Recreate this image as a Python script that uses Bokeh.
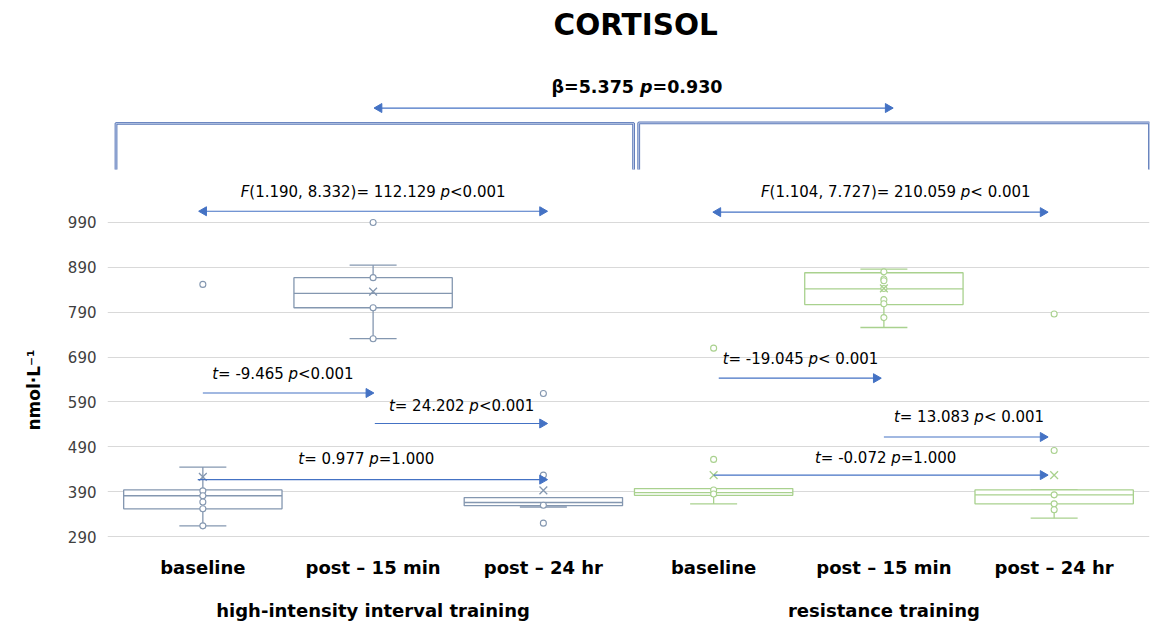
from math import pi
from bokeh.plotting import figure
from bokeh.models import FactorRange, Range1d, ColumnDataSource, FixedTicker, Title
from bokeh.core.properties import value, field
from bokeh.embed import file_html
from bokeh.resources import INLINE

# ---------------- data ----------------
groups = ["high-intensity interval training", "resistance training"]
times = ["baseline", "post – 15 min", "post – 24 hr"]
group_colors = ["#8497B0", "#A9D18E"]

lower = [314, 731, 356, 363, 756, 331]
q1 = [352, 800, 359, 382, 807, 363]
median = [381, 832, 366, 388, 842, 383]
q3 = [394, 867, 377, 397, 878, 394]
upper = [445, 895, 377, 397, 886, 394]
mean = [423, 836, 393, 427, 843, 427]

points = [
    [852, 392, 381, 367, 352, 314],
    [990, 867, 800, 731],
    [609, 427, 360, 320],
    [710, 462, 394, 385],
    [880, 864, 860, 843, 818, 809, 778],
    [786, 482, 383, 363, 350],
]

y_ticks = [290, 390, 490, 590, 690, 790, 890, 990]

title_text = "CORTISOL"
y_label = "nmol·L⁻¹"
between_text = [("β=5.375 ", False), ("p", True), ("=0.930", False)]
anova_hiit = [("F", True), ("(1.190, 8.332)= 112.129 ", False), ("p", True), ("<0.001", False)]
anova_rt = [("F", True), ("(1.104, 7.727)= 210.059 ", False), ("p", True), ("< 0.001", False)]
t_hiit = [
    [("t", True), ("= -9.465 ", False), ("p", True), ("<0.001", False)],
    [("t", True), ("= 24.202 ", False), ("p", True), ("<0.001", False)],
    [("t", True), ("= 0.977 ", False), ("p", True), ("=1.000", False)],
]
t_rt = [
    [("t", True), ("= -19.045 ", False), ("p", True), ("< 0.001", False)],
    [("t", True), ("= 13.083 ", False), ("p", True), ("< 0.001", False)],
    [("t", True), ("= -0.072 ", False), ("p", True), ("=1.000", False)],
]

# ---------------- layout / style ----------------
FONT = "DejaVu Sans"
ARROW = "#4472C4"
HI, RT = groups
B, P15, P24 = times

cats = [(g, t) for g in groups for t in times]
colors = [group_colors[i // 3] for i in range(len(cats))]

x_range = FactorRange(*cats, factor_padding=0, group_padding=0,
                      range_padding=0.06, range_padding_units="absolute")
p = figure(width=1166, height=626, x_range=x_range, y_range=Range1d(288, 1371),
           output_backend="svg", toolbar_location=None,
           min_border_left=107, min_border_right=17, min_border_top=50, min_border_bottom=89)
p.outline_line_color = None
p.background_fill_color = "white"
p.border_fill_color = "white"

p.title.text = title_text
p.title.text_font = FONT
p.title.text_font_size = "29.5px"
p.title.text_font_style = "bold"
p.title.align = "left"
p.title.offset = 446
p.title.vertical_align = "top"
p.title.standoff = 15
p.title.text_color = "black"

p.add_layout(Title(text=y_label, align="left", offset=107, standoff=42,
                   text_font=FONT, text_font_size="17px", text_font_style="bold",
                   text_color="black"), "left")

p.xgrid.grid_line_color = None
p.ygrid.grid_line_color = "#D9D9D9"
p.ygrid.grid_line_width = 1
p.yaxis.ticker = FixedTicker(ticks=y_ticks)
p.yaxis.axis_line_color = None
p.yaxis.major_tick_line_color = None
p.yaxis.minor_tick_line_color = None
p.yaxis.major_tick_out = 0
p.yaxis.major_label_standoff = 11
p.yaxis.major_label_text_font = FONT
p.yaxis.major_label_text_font_size = "15px"
p.yaxis.major_label_text_color = "#404040"

p.xaxis.axis_line_color = None
p.xaxis.major_tick_line_color = None
p.xaxis.major_tick_out = 0
p.xaxis.separator_line_color = None
p.xaxis.major_label_standoff = 19
p.xaxis.major_label_text_font = FONT
p.xaxis.major_label_text_font_size = "18px"
p.xaxis.major_label_text_font_style = "bold"
p.xaxis.major_label_text_color = "black"
p.xaxis.group_text_font = FONT
p.xaxis.group_text_font_size = "18px"
p.xaxis.group_text_font_style = "bold"
p.xaxis.group_text_color = "black"

# ---------------- brackets ----------------
for xs, ys in [
    ([(HI, B, -0.51), (HI, B, -0.51), (HI, P24, 0.53), (HI, P24, 0.53)], [1108, 1211, 1211, 1108]),
    ([(RT, B, -0.44), (RT, B, -0.44), (RT, P24, 0.56), (RT, P24, 0.56)], [1108, 1212, 1212, 1108]),
]:
    p.line(xs, ys, line_color="#5A78B8", line_width=2.8)
    p.line(xs, ys, line_color="#C8D4EC", line_width=0.9)

# ---------------- box plots ----------------
half_box, half_cap = 0.465, 0.138
box = ColumnDataSource(dict(
    x=cats, lower=lower, q1=q1, median=median, q3=q3, upper=upper, mean=mean, color=colors,
    m0=[(g, t, -half_box) for g, t in cats], m1=[(g, t, half_box) for g, t in cats],
    c0=[(g, t, -half_cap) for g, t in cats], c1=[(g, t, half_cap) for g, t in cats],
))
wk = dict(line_color="color", line_width=1.3, source=box)
p.segment(x0="x", y0="q3", x1="x", y1="upper", **wk)
p.segment(x0="x", y0="q1", x1="x", y1="lower", **wk)
p.segment(x0="c0", y0="upper", x1="c1", y1="upper", **wk)
p.segment(x0="c0", y0="lower", x1="c1", y1="lower", **wk)
p.vbar(x="x", width=2 * half_box, top="q3", bottom="q1", fill_color="white",
       line_color="color", line_width=1.3, source=box)
p.segment(x0="m0", y0="median", x1="m1", y1="median", **wk)

px, py, pc = [], [], []
for c, col, vals in zip(cats, colors, points):
    for v in vals:
        px.append(c); py.append(v); pc.append(col)
p.scatter(x=px, y=py, marker="circle", size=6, fill_color="white", line_color=pc, line_width=1.1)
p.scatter(x="x", y="mean", marker="x", size=11, line_color="color", line_width=1.3, source=box)

# ---------------- statistics annotations ----------------
REG_W = {' ': 0.318, '.': 0.318, ',': 0.318, '-': 0.361, '(': 0.390, ')': 0.390,
         '=': 0.838, '<': 0.838, 'F': 0.575, 'p': 0.635, 't': 0.392}
BOLD_W = {' ': 0.348, '.': 0.380, '=': 0.838, 'p': 0.716, 'β': 0.705}


def text_width(s, bold):
    tbl, dig = (BOLD_W, 0.696) if bold else (REG_W, 0.636)
    return sum(dig if ch.isdigit() else tbl.get(ch, 0.6) for ch in s)


rows = dict(x=[], y=[], text=[], xo=[], style=[], size=[])


def add_text(pieces, x, y, size, bold=False):
    total = sum(text_width(s, bold) for s, _ in pieces) * size
    off = -total / 2
    for s, it in pieces:
        style = ("bold " if bold else "") + ("italic" if it else "")
        rows["x"].append(x); rows["y"].append(y); rows["text"].append(s)
        rows["xo"].append(off); rows["style"].append(style.strip() or "normal")
        rows["size"].append(f"{size}px")
        off += text_width(s, bold) * size


add_text(between_text, (HI, P24, 0.55), 1293, 17.5, bold=True)
add_text(anova_hiit, (HI, P15, 0.0), 1057, 15)
add_text(anova_rt, (RT, P15, 0.07), 1057, 15)
for pieces, x, y in zip(t_hiit, [(HI, B, 0.47), (HI, P15, 0.52), (HI, P15, -0.04)], [652, 581, 463]):
    add_text(pieces, x, y, 15)
for pieces, x, y in zip(t_rt, [(RT, B, 0.51), (RT, P15, 0.5), (RT, P15, 0.01)], [686, 557, 466]):
    add_text(pieces, x, y, 15)

p.text(x="x", y="y", text="text", x_offset="xo", text_font=value(FONT),
       text_font_style=field("style"), text_font_size=field("size"),
       text_align="left", text_baseline="middle", text_color="black",
       source=ColumnDataSource(rows))

arrows = [
    ((HI, P15, 0.01), (RT, P15, 0.05), 1245, True),
    ((HI, B, -0.02), (HI, P24, 0.02), 1015, True),
    ((RT, B, 0.0), (RT, P24, -0.04), 1013, True),
    ((HI, B, 0.0), (HI, P15, 0.0), 610, False),
    ((HI, P15, 0.01), (HI, P24, 0.02), 542, False),
    ((HI, B, -0.03), (HI, P24, 0.02), 417, False),
    ((RT, B, 0.03), (RT, P15, -0.02), 643, False),
    ((RT, P15, 0.0), (RT, P24, -0.04), 512, False),
    ((RT, B, 0.0), (RT, P24, -0.04), 427, False),
]
HEAD = 0.026
seg = dict(x0=[], x1=[], y=[])
heads = dict(x=[], y=[], angle=[])
for (g0, t0, o0), (g1, t1, o1), y, both in arrows:
    seg["x0"].append((g0, t0, o0)); seg["x1"].append((g1, t1, o1)); seg["y"].append(y)
    heads["x"].append((g1, t1, o1 - HEAD)); heads["y"].append(y); heads["angle"].append(-pi / 2)
    if both:
        heads["x"].append((g0, t0, o0 + HEAD)); heads["y"].append(y); heads["angle"].append(pi / 2)
p.segment(x0="x0", y0="y", x1="x1", y1="y", line_color=ARROW, line_width=1.2,
          source=ColumnDataSource(seg))
p.scatter(x="x", y="y", angle="angle", marker="triangle", size=9, fill_color=ARROW,
          line_color=ARROW, source=ColumnDataSource(heads))

open("out.html", "w").write(file_html(p, INLINE))
